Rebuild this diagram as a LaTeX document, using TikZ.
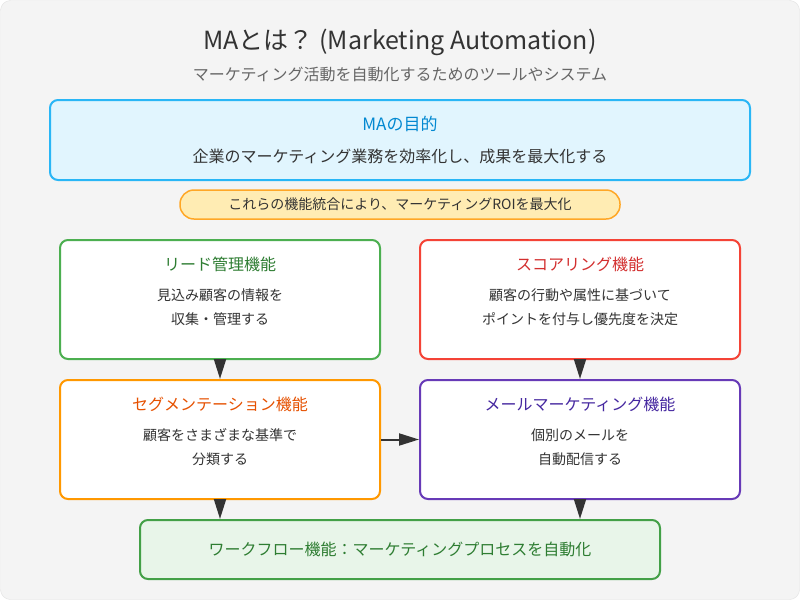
\documentclass[tikz,border=0pt]{standalone}
\usepackage{fontspec}
\setmainfont{Noto Sans CJK JP}
\usepackage{xcolor}
\usetikzlibrary{arrows.meta}
\usetikzlibrary{calc}
\usetikzlibrary{positioning}

\definecolor{bgfill}{HTML}{F4F4F4}
\definecolor{bgline}{HTML}{E2E2E2}
\definecolor{darktext}{HTML}{333333}
\definecolor{greytext}{HTML}{666666}
\definecolor{goalfill}{HTML}{E1F5FE}
\definecolor{goalline}{HTML}{29B6F6}
\definecolor{goaltext}{HTML}{0288D1}
\definecolor{pillfill}{HTML}{FFECB3}
\definecolor{pillline}{HTML}{FFA726}
\definecolor{leadline}{HTML}{4CAF50}
\definecolor{leadtext}{HTML}{2E7D32}
\definecolor{scoreline}{HTML}{F44336}
\definecolor{scoretext}{HTML}{D32F2F}
\definecolor{segline}{HTML}{FF9800}
\definecolor{segtext}{HTML}{E65100}
\definecolor{mailline}{HTML}{673AB7}
\definecolor{mailtext}{HTML}{4527A0}
\definecolor{wffill}{HTML}{E8F5E9}
\definecolor{wfline}{HTML}{43A047}

\begin{document}
\begin{tikzpicture}[x=1pt, y=-1pt,
    card/.style={draw, line width=2pt, rounded corners=8pt, fill=white,
      minimum width=320pt, minimum height=119pt, inner sep=0pt},
    cardtitle/.style={font=\fontsize{16}{18}\selectfont},
    cardbody/.style={text=darktext, align=center,
      font=\fontsize{14}{24}\selectfont},
    flow/.style={draw=darktext, line width=2pt,
      -{Triangle[length=20pt, width=12pt]}}]

    \useasboundingbox (0, 0) rectangle (800, 600);
    \fill [white] (0, 0) rectangle (800, 600);
    \draw [fill=bgfill, draw=bgline, rounded corners=10pt]
      (0.5, 0.5) rectangle (799.5, 599.5);

    % heading
    \node [text=darktext, font=\fontsize{25}{28}\selectfont] (title)
      at (400, 42) {MAとは？ (Marketing Automation)};
    \node [text=greytext, font=\fontsize{16}{18}\selectfont] (subtitle)
      at (400, 74) {マーケティング活動を自動化するためのツールやシステム};

    % goal box
    \node [draw=goalline, fill=goalfill, line width=2pt, rounded corners=8pt,
      minimum width=700pt, minimum height=80pt] (goal) at (400, 140) {};
    \node [cardtitle, text=goaltext, font=\fontsize{17}{19}\selectfont]
      (goaltitle) at (400, 124) {MAの目的};
    \node [text=darktext, font=\fontsize{16}{18}\selectfont] (goalbody)
      at (400, 156) {企業のマーケティング業務を効率化し、成果を最大化する};

    \node [draw=pillline, fill=pillfill, line width=1.5pt, rounded corners=14pt,
      minimum width=440pt, minimum height=29pt, text=darktext,
      font=\fontsize{14}{16}\selectfont] (roi) at (400, 204.5)
      {これらの機能統合により、マーケティングROIを最大化};

    % feature cards
    \node [card, draw=leadline] (lead) at (220, 299.5) {};
    \node [cardtitle, text=leadtext] (leadtitle) at (220, 264) {リード管理機能};
    \node [cardbody] (leadbody) at (220, 307.5) {見込み顧客の情報を\\収集・管理する};

    \node [card, draw=scoreline] (score) at (580, 299.5) {};
    \node [cardtitle, text=scoretext] (scoretitle) at (580, 264) {スコアリング機能};
    \node [cardbody] (scorebody) at (580, 307.5)
      {顧客の行動や属性に基づいて\\ポイントを付与し優先度を決定};

    \node [card, draw=segline] (seg) at (220, 439.5) {};
    \node [cardtitle, text=segtext] (segtitle) at (220, 404) {セグメンテーション機能};
    \node [cardbody] (segbody) at (220, 447.5) {顧客をさまざまな基準で\\分類する};

    \node [card, draw=mailline] (mail) at (580, 439.5) {};
    \node [cardtitle, text=mailtext] (mailtitle) at (580, 404) {メールマーケティング機能};
    \node [cardbody] (mailbody) at (580, 447.5) {個別のメールを\\自動配信する};

    % workflow
    \node [draw=wfline, fill=wffill, line width=2pt, rounded corners=8pt,
      minimum width=520pt, minimum height=59pt, text=leadtext,
      font=\fontsize{16}{18}\selectfont] (wf) at (400, 549.5)
      {ワークフロー機能：マーケティングプロセスを自動化};

    \draw [flow] (lead) -- (seg);
    \draw [flow] (score) -- (mail);
    \draw [flow] (seg) -- (mail);
    \draw [flow] (seg.south) -- (seg.south |- wf.north);
    \draw [flow] (mail.south) -- (mail.south |- wf.north);

\end{tikzpicture}
\end{document}
